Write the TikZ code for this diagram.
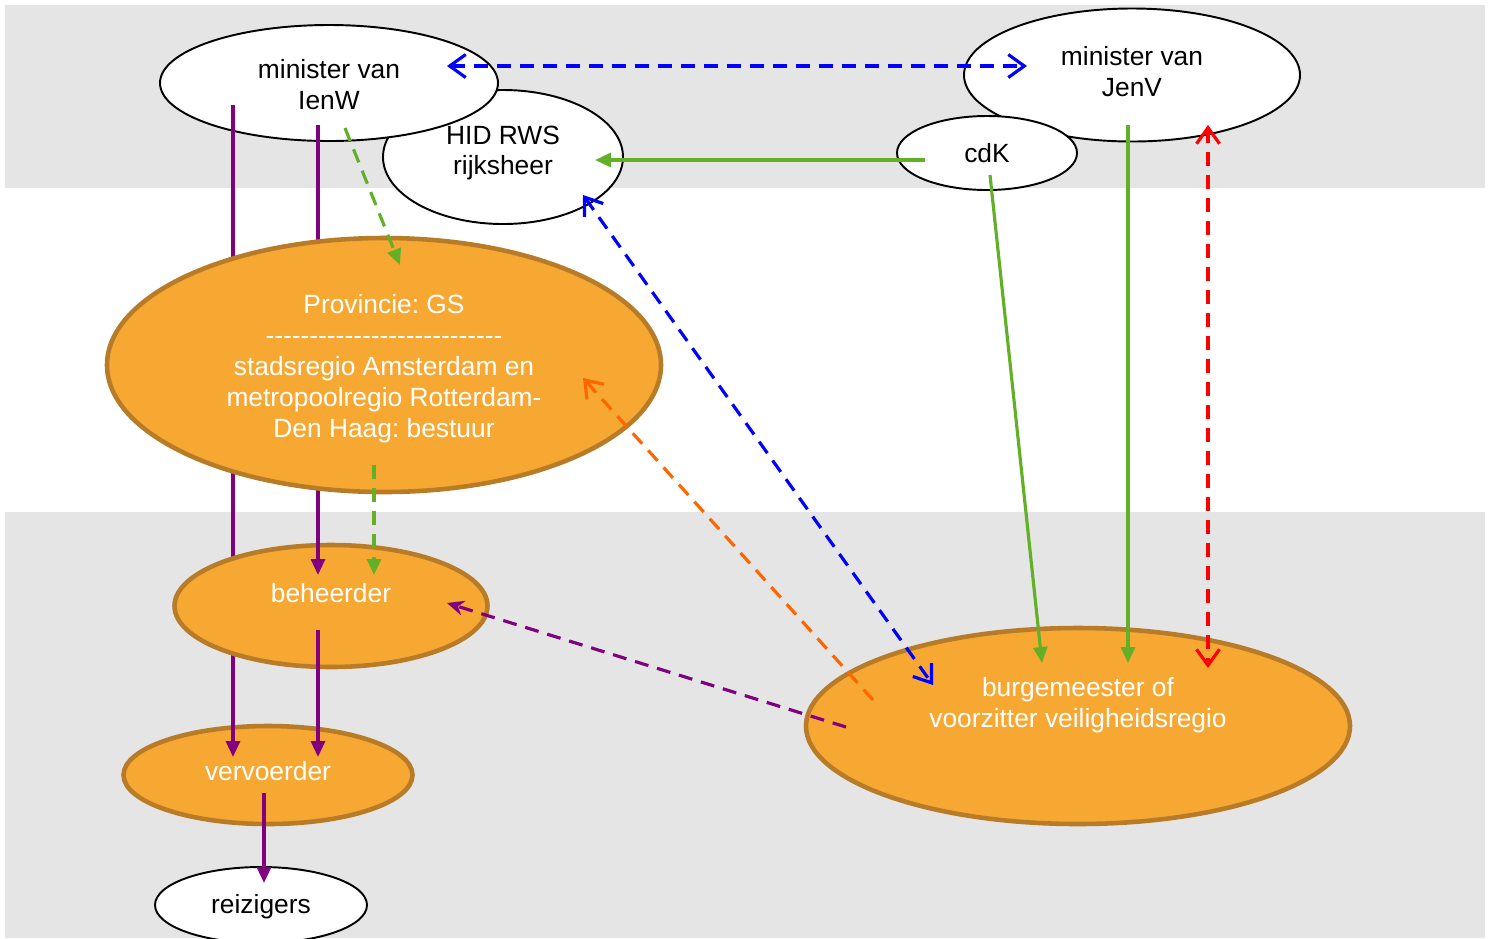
\documentclass[tikz,border=0pt]{standalone}
\usepackage{fontspec}
\setmainfont{Liberation Sans}
\usetikzlibrary{shapes.geometric,arrows.meta,calc}

\definecolor{band}{RGB}{229,229,229}
\definecolor{vlak}{RGB}{247,168,50}
\definecolor{rand}{RGB}{184,124,40}
\definecolor{paars}{RGB}{128,0,128}
\definecolor{groen}{RGB}{98,176,40}
\definecolor{oranjelijn}{RGB}{255,102,0}

\begin{document}
\frenchspacing
\begin{tikzpicture}[x=0.02cm,y=-0.02cm,
  font=\fontsize{15}{17.6}\selectfont,
  maat/.style 2 args={minimum width=#1*0.02cm,minimum height=#2*0.02cm},
  wit/.style={ellipse,draw=black,line width=1.1pt,fill=white,align=center,inner sep=0pt},
  oranje/.style={ellipse,draw=rand,line width=2.6pt,fill=vlak,text=white,align=center,inner sep=0pt},
  tekst/.style={text=white,align=center},
  lijn/.style={line width=1.8pt},
  stip/.style={line width=1.8pt,dash pattern=on 0.28cm off 0.18cm},
  vol/.style={-{Triangle[length=3.2mm,width=2.8mm]}},
  pijl/.style={-{Stealth[length=3.4mm,width=3mm]}},
  open/.style={-{Straight Barb[length=3.2mm,width=4.6mm]}},
  tweeopen/.style={{Straight Barb[length=3.2mm,width=4.6mm]}-{Straight Barb[length=3.2mm,width=4.6mm]}}]
  \useasboundingbox (0,0) rectangle (1491,938);

  % achtergrond
  \fill[band] (5,5) rectangle (1485,188);
  \fill[band] (5,512) rectangle (1485,938);

  % rijk
  \node[wit,maat={240}{134}] (hid) at (503,157) {};
  \node[align=center] at (503,153) {HID RWS\\rijksheer};
  \node[wit,maat={338}{116}] (ienw) at (329,83) {};
  \node[align=center] at (329,85) {minister van\\IenW};
  \node[wit,maat={336}{133}] (jenv) at (1132,75) {};
  \node[align=center] at (1132,72) {minister van\\JenV};
  \node[wit,maat={180}{74}] (cdk) at (987,153) {cdK};

  % uitvoering
  \node[oranje,maat={289}{98}] (vervoerder) at (268,775) {};
  \node[tekst] at (268,771) {vervoerder};
  \node[wit,maat={212}{76}] (reizigers) at (261,905) {};
  \node at (261,907) {reizigers};

  \draw[lijn,paars,vol] ($(ienw)+(-96,22)$) -- ($(vervoerder)+(-35,-18)$);

  \node[oranje,maat={313}{122}] (beheerder) at (331,606) {};
  \node[tekst] at (331,593) {beheerder};

  \draw[lijn,paars,vol] ($(ienw)+(-11,42)$) -- ($(beheerder)+(-13,-31)$);

  \node[oranje,maat={554}{254}] (provincie) at (384,365) {};
  \node[tekst] at (384,369)
    {Provincie: GS\\-{}-{}-{}-{}-{}-{}-{}-{}-{}-{}-{}-{}-{}-{}-{}-{}-{}-{}-{}-{}-{}-{}-{}-{}-{}-{}-{}\\stadsregio Amsterdam en\\metropoolregio Rotterdam-\\Den Haag: bestuur};
  \node[oranje,maat={544}{196}] (burgemeester) at (1078,726) {};
  \node[tekst] at (1078,705) {burgemeester of\\voorzitter veiligheidsregio};

  % bevoegdheden
  \draw[lijn,paars,vol] ($(beheerder)+(-13,24)$) -- ($(vervoerder)+(50,-18)$);
  \draw[lijn,paars,vol] ($(vervoerder)+(-4,18)$) -- ($(reizigers)+(3,-22)$);
  \draw[stip,groen,vol] ($(ienw)+(16,45)$) -- ($(provincie)+(16,-100)$);
  \draw[stip,groen,vol] ($(provincie)+(-10,100)$) -- ($(beheerder)+(43,-31)$);
  \draw[stip,blue,tweeopen] ($(ienw)+(118,-17)$) -- ($(jenv)+(-105,-9)$);
  \draw[lijn,groen,vol] ($(cdk)+(-62,7)$) -- ($(hid)+(92,3)$);
  \draw[stip,blue,tweeopen] ($(hid)+(80,38)$) -- ($(burgemeester)+(-145,-41)$);
  \draw[lijn,groen,vol] ($(cdk)+(3,22)$) -- ($(burgemeester)+(-36,-63)$);
  \draw[lijn,groen,vol] ($(jenv)+(-4,50)$) -- ($(burgemeester)+(50,-63)$);
  \draw[stip,red,tweeopen] ($(jenv)+(76,50)$) -- ($(burgemeester)+(130,-58)$);
  \draw[stip,oranjelijn,open] ($(burgemeester)+(-205,-26)$) -- ($(provincie)+(199,13)$);
  \draw[stip,paars,pijl] ($(burgemeester)+(-232,1)$) -- ($(beheerder)+(116,-3)$);
\end{tikzpicture}
\end{document}
